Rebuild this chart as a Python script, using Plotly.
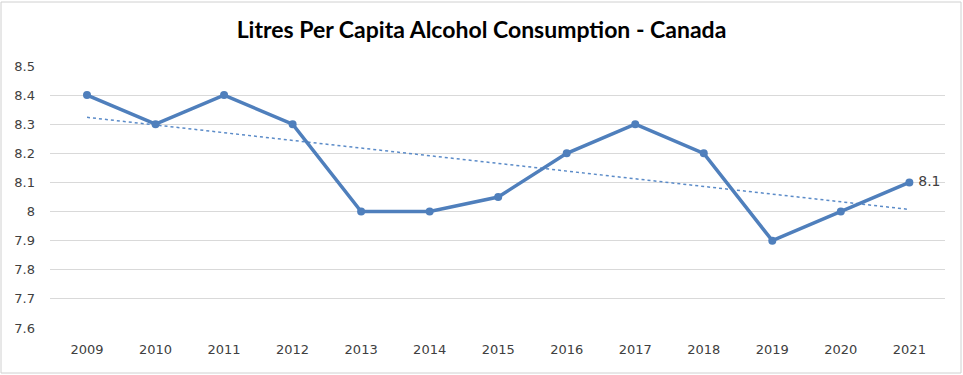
import numpy as np
import plotly.graph_objects as go

years = [2009, 2010, 2011, 2012, 2013, 2014, 2015, 2016, 2017, 2018, 2019, 2020, 2021]
litres = [8.4, 8.3, 8.4, 8.3, 8.0, 8.0, 8.05, 8.2, 8.3, 8.2, 7.9, 8.0, 8.1]
y_ticks = [7.6, 7.7, 7.8, 7.9, 8.0, 8.1, 8.2, 8.3, 8.4, 8.5]
y_tick_text = ["7.6", "7.7", "7.8", "7.9", "8", "8.1", "8.2", "8.3", "8.4", "8.5"]

# linear trendline from the data
slope, intercept = np.polyfit(years, litres, 1)
trend = [slope * x + intercept for x in years]

line_color = "#4F7FBC"

fig = go.Figure()
fig.add_trace(go.Scatter(
    x=years, y=trend, mode="lines",
    line=dict(color="#5B8BC8", width=1.5, dash="dot"),
    hoverinfo="skip", showlegend=False))
fig.add_trace(go.Scatter(
    x=years, y=litres, mode="lines+markers",
    line=dict(color=line_color, width=3.5),
    marker=dict(color=line_color, size=8),
    showlegend=False))
fig.add_trace(go.Scatter(
    x=[years[-1]], y=[litres[-1]], mode="text",
    text=["  " + str(litres[-1])], textposition="middle right",
    textfont=dict(family="DejaVu Sans", size=14, color="#404040"),
    hoverinfo="skip", showlegend=False))

W, H = 963, 375
ml, mr, mt, mb = 50, 18, 66, 47
pw, ph = W - ml - mr, H - mt - mb

fig.update_layout(
    width=W, height=H,
    margin=dict(l=ml, r=mr, t=mt, b=mb),
    paper_bgcolor="white", plot_bgcolor="white",
    title=dict(text="<b>Litres Per Capita Alcohol Consumption - Canada</b>",
               x=0.5, xanchor="center", y=1 - 30 / H, yanchor="middle",
               font=dict(family="Lato", size=23, color="#000000")),
    xaxis=dict(range=[2008.46, 2021.52], tickmode="array", tickvals=years,
               ticktext=[str(y) for y in years], showgrid=False, zeroline=False,
               showline=False, ticks="", ticklabelstandoff=12,
               tickfont=dict(family="DejaVu Sans", size=13, color="#404040")),
    yaxis=dict(range=[7.6, 8.5], tickmode="array", tickvals=y_ticks,
               ticktext=y_tick_text, showgrid=True, gridcolor="#D9D9D9",
               gridwidth=1, zeroline=False, showline=False, ticks="",
               ticklabelstandoff=14,
               tickfont=dict(family="DejaVu Sans", size=13, color="#404040")),
    shapes=[dict(type="rect", xref="paper", yref="paper",
                 x0=(1 - ml) / pw, x1=(W - 2 - ml) / pw,
                 y0=-(mb - 2) / ph, y1=1 + (mt - 2) / ph,
                 line=dict(color="#D0D0D0", width=1), layer="below")],
)

fig.write_html("out.html", config={"displayModeBar": False},
               post_script="document.body.style.margin='0';")
